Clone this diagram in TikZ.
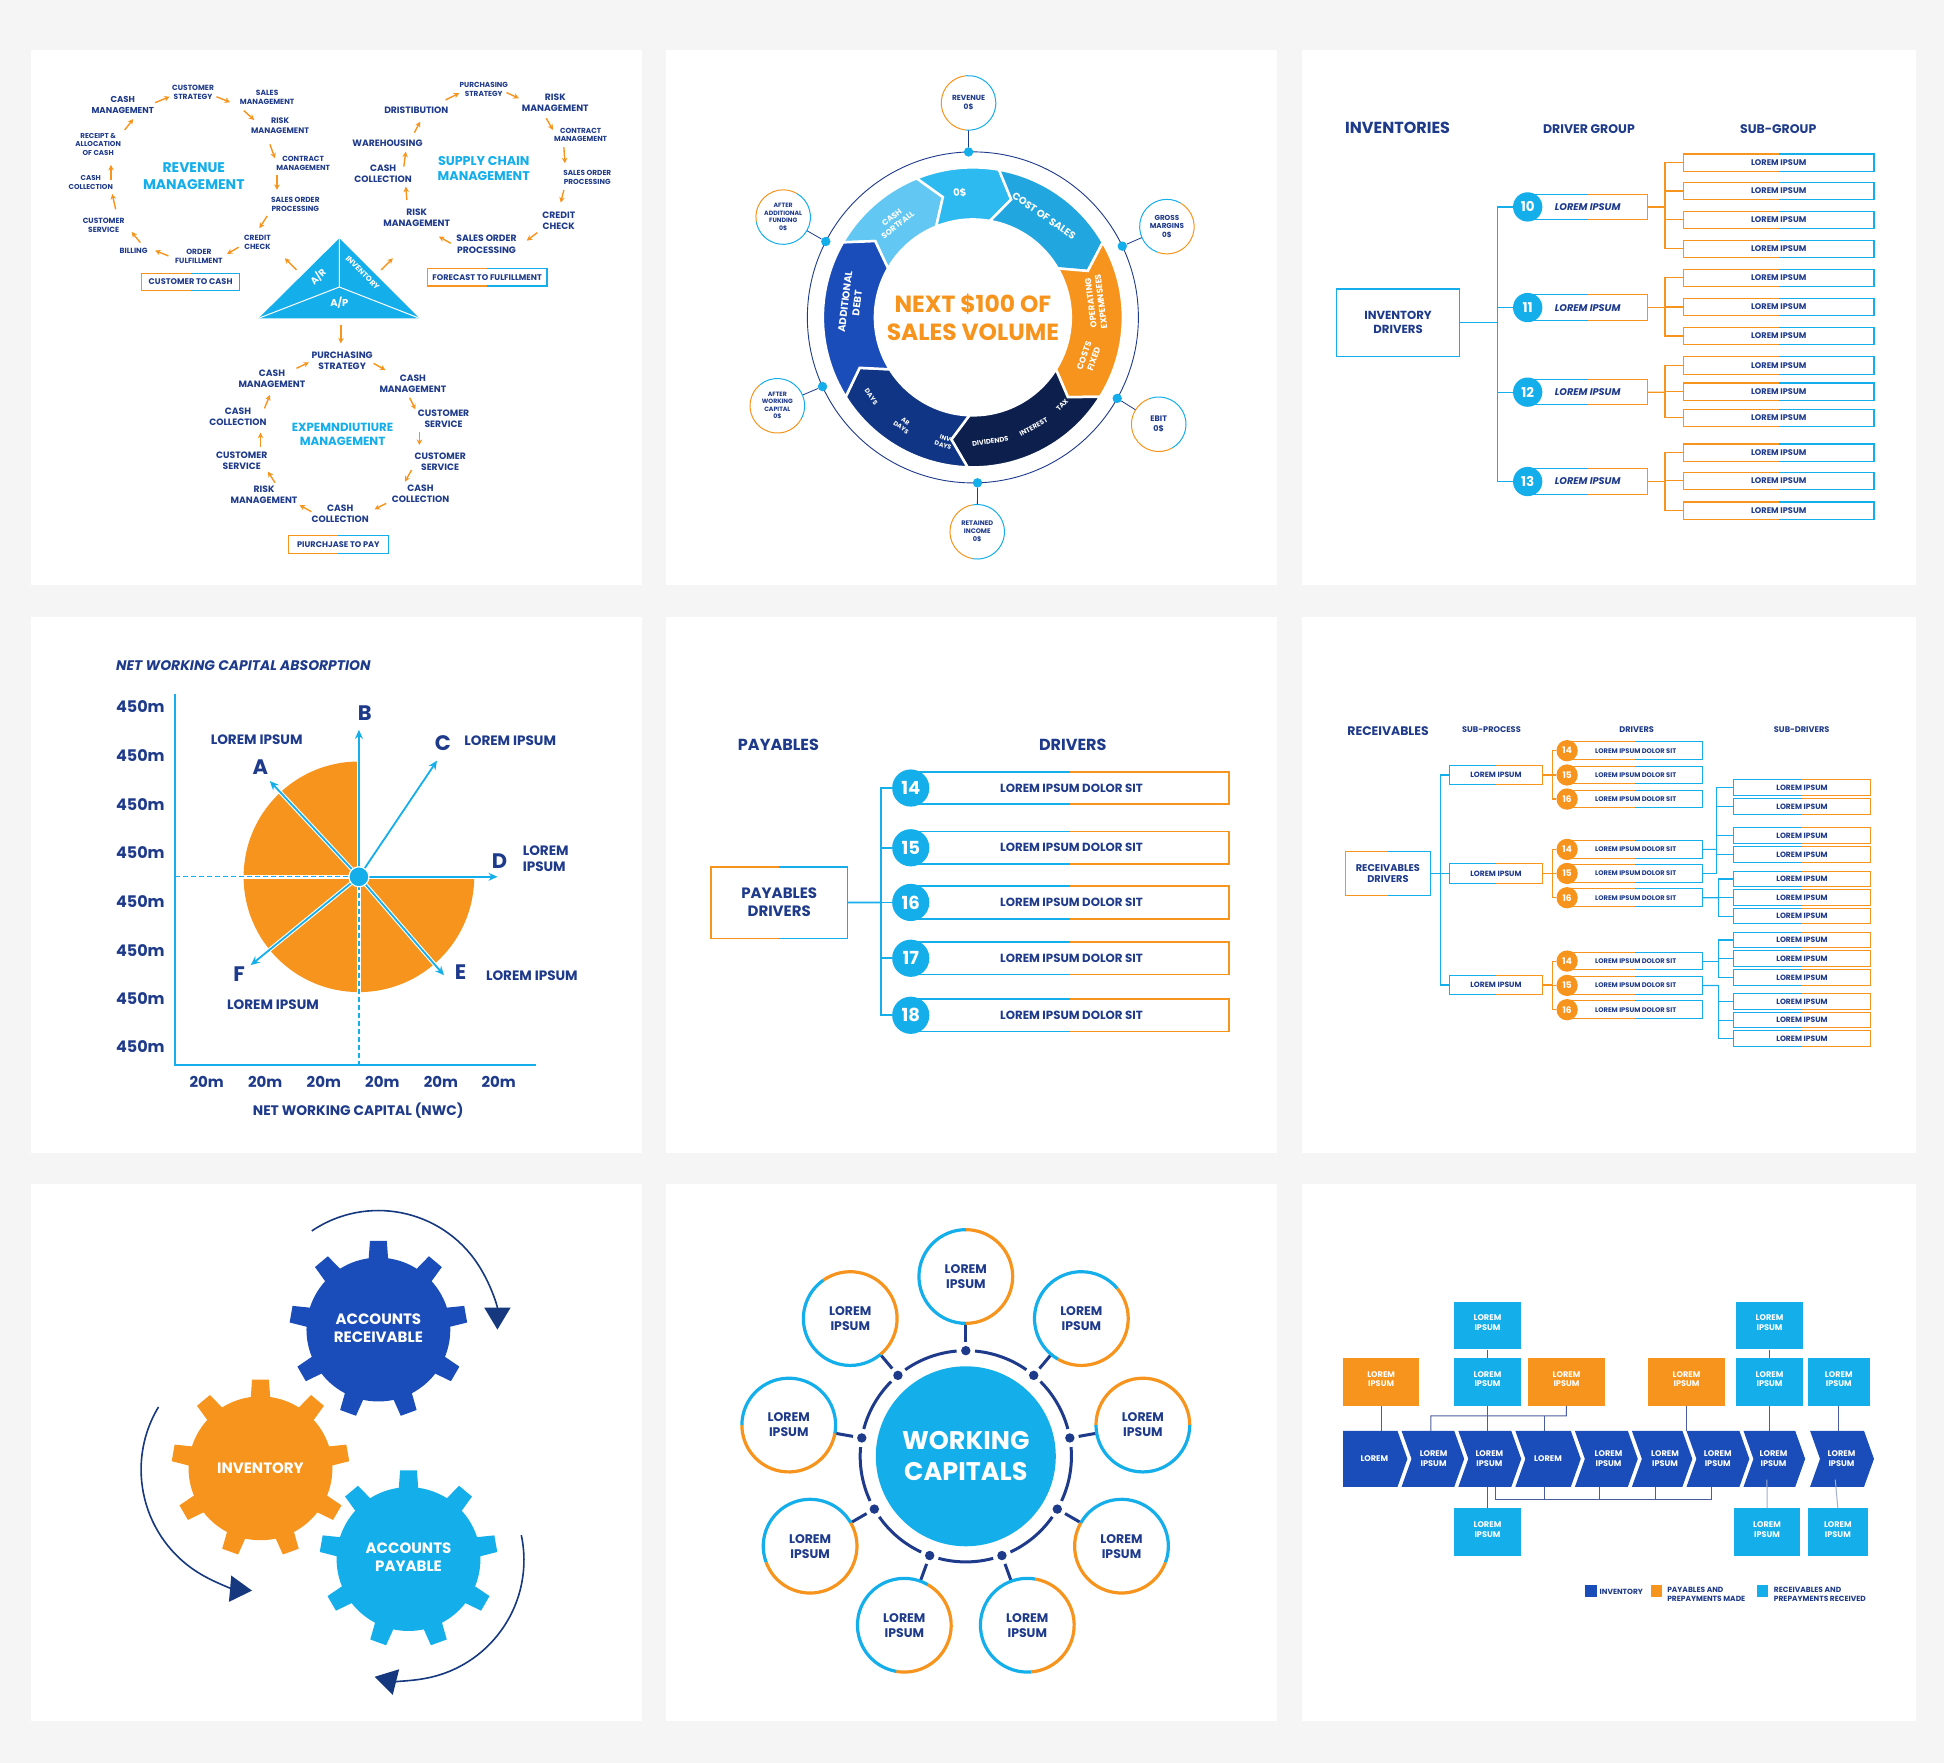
\documentclass[tikz,border=0pt]{standalone}
\usepackage{fontspec}
\setmainfont{Poppins}
\usetikzlibrary{arrows.meta,fit,calc}
\definecolor{navy}{HTML}{1E3A8A}
\definecolor{cy}{HTML}{14AEEB}
\definecolor{org}{HTML}{F7941D}
\definecolor{roy}{HTML}{1A4DB9}
\definecolor{dnavy}{HTML}{0C1F4D}
\definecolor{mnavy}{HTML}{103584}
\definecolor{lcy}{HTML}{62C8F3}
\definecolor{cyb}{HTML}{2DBAF0}
\definecolor{cyc}{HTML}{22A6E0}
\definecolor{bgc}{HTML}{F5F5F5}
\definecolor{lnk}{HTML}{4A5E9E}
\definecolor{arrn}{HTML}{16387F}
\newcommand\fz[1]{\fontsize{#1}{\fpeval{1.2*#1}}\selectfont}
\tikzset{
 tx/.style={font=\fz{#1}\bfseries, text=navy, align=center, inner sep=0pt},
 wt/.style={font=\fz{#1}\bfseries, text=white, align=center, inner sep=0pt},
 txi/.style={font=\fz{#1}\bfseries\itshape, text=navy, align=center, inner sep=0pt},
 oarr/.style={draw=org, line width=1.4pt, -{Stealth[length=5.5pt,width=5.5pt]}},
 bw/.style={line width=1.2pt},
}
\newcommand\oar[3]{\coordinate (#1s) at (#2); \coordinate (#1e) at (#3); \draw[oarr] (#1s) -- (#1e);}
\newcommand\tbox[9]{%
 \pgfmathsetmacro\tbm{(#2+#4)/2}\pgfmathsetmacro\tbv{(#3+#5)/2}%
 \node[fit={(#2,#3)(#4,#5)}, inner sep=0pt] (#1) {};%
 \node[#8] (#1t) at (\tbm,\tbv) {#9};%
 \draw[#6,bw] (\tbm,#3) -- (#2,#3) -- (#2,#5) -- (\tbm,#5);%
 \draw[#7,bw] (\tbm,#3) -- (#4,#3) -- (#4,#5) -- (\tbm,#5);%
}
\newcommand\tcirc[5]{%
 \pgfmathsetmacro\tca{#3}\pgfmathsetmacro\tcb{#4}\pgfmathsetmacro\tcc{#3+360}%
 \draw[org, line width=#5] ([shift={(#1)}]\tca:#2) arc[start angle=\tca, end angle=\tcb, radius=#2];%
 \draw[cy, line width=#5] ([shift={(#1)}]\tcb:#2) arc[start angle=\tcb, end angle=\tcc, radius=#2];%
}
\newcommand\seg[3]{%
 \pgfmathsetmacro\sga{#2}\pgfmathsetmacro\sgb{#3}\pgfmathsetmacro\sgbt{#3+8}\pgfmathsetmacro\sgat{#2+8}%
 \filldraw[fill=#1, draw=white, line width=2.5pt, line join=miter] ([shift={(rc)}]\sga:121) arc[start angle=\sga, end angle=\sgb, radius=121] -- ([shift={(rc)}]\sgbt:100) -- ([shift={(rc)}]\sgb:79) arc[start angle=\sgb, end angle=\sga, radius=79] -- ([shift={(rc)}]\sgat:100) -- cycle;%
}
\newcommand\gear[2]{%
 \fill[#2] (#1) circle[radius=58];%
 \foreach \r in {90,50,10,-30,-70,-110,-150,-190,-230} {\fill[#2, shift={(#1)}, rotate=\r] (48,-8.5) -- (71.5,-6.8) -- (71.5,6.8) -- (48,8.5) -- cycle;}%
}
\newcommand\chev[2]{\fill[roy] (#1,1154.2) -- ({#2-8},1154.2) -- (#2,1176.7) -- ({#2-8},1199.2) -- (#1,1199.2) -- ({#1+8},1176.7) -- cycle;}
\begin{document}
\begin{tikzpicture}[x=1.2398pt,y=-1.2398pt]
\fill[bgc] (0,0) rectangle (1568,1422);
\path[use as bounding box] (0,0) rectangle (1568,1422);
\foreach \xa/\ya/\xb/\yb in {25/40/518/472, 537/40/1030/472, 1050/40/1545/472, 25/498/518/930, 537/498/1030/930, 1050/498/1545/930, 25/955/518/1388, 537/955/1030/1388, 1050/955/1545/1388} \fill[white] (\xa,\ya) rectangle (\xb,\yb);

%%%%%%%% PANEL 1
\node[tx=8.6] (rv1) at (99.0,84.7) {CASH\\MANAGEMENT};
\node[tx=7.5] (rv2) at (155.7,74.4) {CUSTOMER\\STRATEGY};
\node[tx=7.5] (rv3) at (215.5,78.5) {SALES\\MANAGEMENT};
\node[tx=8] (rv4) at (225.9,101.6) {RISK\\MANAGEMENT};
\node[tx=7.4] (rv5) at (244.5,131.7) {CONTRACT\\MANAGEMENT};
\node[tx=7.4] (rv6) at (238.2,164.8) {SALES ORDER\\PROCESSING};
\node[tx=7.5] (rv7) at (207.6,195.1) {CREDIT\\CHECK};
\node[tx=7.5] (rv8) at (160.4,206.4) {ORDER\\FULFILLMENT};
\node[tx=7.5] (rv9) at (107.8,202.7) {BILLING};
\node[tx=7.5] (rv10) at (83.6,181.4) {CUSTOMER\\SERVICE};
\node[tx=7.1] (rv11) at (73.2,147.0) {CASH\\COLLECTION};
\node[tx=7.1] (rv12) at (79.2,116.4) {RECEIPT \&\\ALLOCATION\\OF CASH};
\node[tx=14, text=cy] (rvm) at (156.3,141.9) {REVENUE\\MANAGEMENT};
\oar{rA1}{125.1,82.8}{136.8,78.0}
\oar{rA2}{174.6,78.0}{185.6,82.5}
\oar{rA3}{196.6,89.2}{205.1,96.8}
\oar{rA4}{217.7,116.4}{221.8,127.7}
\oar{rA5}{223.4,141.1}{223.4,153.2}
\oar{rA6}{215.5,174.2}{209.2,184.1}
\oar{rA7}{192.5,199.4}{183.1,204.8}
\oar{rA8}{135.8,206.4}{125.1,202.1}
\oar{rA9}{113.2,195.7}{106.2,187.1}
\oar{rA10}{93.3,168.8}{90.5,156.4}
\oar{rA11}{89.5,145.1}{89.5,133.0}
\oar{rA12}{100.6,104.8}{107.5,96.0}
\tbox{bx1}{114.1}{220.4}{193.4}{234.4}{org}{cy}{tx=8.2}{CUSTOMER TO CASH}

\node[tx=7.3] (sc1) at (390.2,72.0) {PURCHASING\\STRATEGY};
\node[tx=9.2] (sc2) at (447.9,82.8) {RISK\\MANAGEMENT};
\node[tx=7.3] (sc3) at (468.3,108.8) {CONTRACT\\MANAGEMENT};
\node[tx=7.3] (sc4) at (473.7,143.0) {SALES ORDER\\PROCESSING};
\node[tx=9.2] (sc5) at (450.7,178.0) {CREDIT\\CHECK};
\node[tx=9.2] (sc6) at (392.4,197.0) {SALES ORDER\\PROCESSING};
\node[tx=9.2] (sc7) at (336.1,175.5) {RISK\\MANAGEMENT};
\node[tx=9.2] (sc8) at (309.0,139.8) {CASH\\COLLECTION};
\node[tx=9.2] (sc9) at (312.5,115.8) {WAREHOUSING};
\node[tx=9.2] (sc10) at (335.8,88.7) {DRISTIBUTION};
\node[tx=12.7, text=cy] (scm) at (390.2,135.7) {SUPPLY CHAIN\\MANAGEMENT};
\oar{sB1}{359.4,80.6}{370.4,75.2}
\oar{sB2}{408.5,74.7}{418.6,79.3}
\oar{sB3}{440.6,95.4}{446.0,104.8}
\oar{sB4}{454.8,118.8}{455.7,131.7}
\oar{sB5}{454.8,153.2}{452.3,163.4}
\oar{sB6}{433.4,187.6}{424.9,194.1}
\oar{sB7}{363.5,196.2}{354.0,190.8}
\oar{sB8}{328.2,161.3}{327.3,150.5}
\oar{sB9}{325.7,134.4}{327.3,122.3}
\oar{sB10}{334.2,107.0}{338.9,98.1}
\tbox{bx2}{344.6}{216.6}{441.2}{230.6}{org}{cy}{tx=8.2}{FORECAST TO FULFILLMENT}

\node[tx=9.2] (ex1) at (276.0,290.9) {PURCHASING\\STRATEGY};
\node[tx=9.2] (ex2) at (333.0,309.2) {CASH\\MANAGEMENT};
\node[tx=9.2] (ex3) at (357.8,338.0) {CUSTOMER\\SERVICE};
\node[tx=9.2] (ex4) at (355.0,372.4) {CUSTOMER\\SERVICE};
\node[tx=9.2] (ex5) at (339.2,397.9) {CASH\\COLLECTION};
\node[tx=9.2] (ex6) at (274.4,414.0) {CASH\\COLLECTION};
\node[tx=9.2] (ex7) at (213.0,398.7) {RISK\\MANAGEMENT};
\node[tx=9.2] (ex8) at (195.0,371.8) {CUSTOMER\\SERVICE};
\node[tx=9.2] (ex9) at (191.9,336.1) {CASH\\COLLECTION};
\node[tx=9.2] (ex10) at (219.3,305.2) {CASH\\MANAGEMENT};
\node[tx=11.8, text=cy] (exm) at (276.3,350.3) {EXPEMNDIUTIURE\\MANAGEMENT};
\oar{eC1}{239.1,297.1}{249.2,292.3}
\oar{eC2}{301.4,293.1}{310.9,298.5}
\oar{eC3}{330.4,320.8}{335.1,330.2}
\oar{eC4}{338.3,348.2}{338.3,358.9}
\oar{eC5}{332.0,379.1}{326.6,388.5}
\oar{eC6}{311.5,406.0}{302.1,410.8}
\oar{eC7}{251.1,412.7}{241.6,407.3}
\oar{eC8}{221.8,389.3}{216.1,380.4}
\oar{eC9}{210.1,360.3}{210.1,349.0}
\oar{eC10}{213.3,329.4}{217.7,318.6}
\tbox{bx3}{232.8}{432.1}{313.1}{446.3}{org}{cy}{tx=8.2}{PIURCHJASE TO PAY}

\coordinate (trA) at (208.6,256.7); \coordinate (trB) at (338.3,256.7); \coordinate (trC) at (273.7,192.2); \coordinate (trO) at (273.7,231.5);
\fill[cy] (trA) -- (trB) -- (trC) -- cycle;
\draw[white, line width=1pt] (trA) -- (trO) -- (trB) (trO) -- (trC);
\node[wt=9.5, rotate=45] (tAR) at (256.5,223.5) {A/R};
\node[wt=7.6, rotate=-45] (tINV) at (292.5,220) {INVENTORY};
\node[wt=10] (tAP) at (273.7,244.5) {A/P};
\oar{tA1}{239.1,217.7}{229.7,208.3}
\oar{tA2}{307.4,217.7}{316.9,208.3}
\oar{tA3}{275,262}{275,277}

%%%%%%%% PANEL 2
\coordinate (rc) at (784.7,256);
\draw[navy, line width=0.9pt] (rc) circle[radius=133.5];
\seg{lcy}{-150}{-112}
\seg{cyb}{-112}{-80}
\seg{cyc}{-80}{-30}
\seg{org}{-30}{32}
\seg{dnavy}{32}{92}
\seg{mnavy}{92}{148}
\seg{roy}{148}{210}
\node[wt=8, rotate=38] (lb1) at ([shift={(rc)}]-129:100) {CASH\\SORTFALL};
\node[wt=10, rotate=5] (lb2) at ([shift={(rc)}]-96:101) {0\$};
\node[wt=10, rotate=-35] (lb3) at ([shift={(rc)}]-55:100) {COST OF SALES};
\node[wt=8.6, rotate=97] (lb4) at ([shift={(rc)}]-7:100) {OPERATING\\EXPEMNSEES};
\node[wt=8.6, rotate=70] (lb5) at ([shift={(rc)}]19:99) {COSTS\\FIXED};
\node[wt=6.8, rotate=9] (lb6) at ([shift={(rc)}]82:101) {DIVIDENDS};
\node[wt=6.8, rotate=29] (lb7) at ([shift={(rc)}]61:101) {INTEREST};
\node[wt=6.8, rotate=46] (lb8) at ([shift={(rc)}]44.5:101) {TAX};
\node[wt=6.5, rotate=-55] (lb9) at ([shift={(rc)}]142:104) {DAYS};
\node[wt=6.2, rotate=-36] (lb10) at ([shift={(rc)}]123:103) {AR\\DAYS};
\node[wt=6.2, rotate=-18] (lb11) at ([shift={(rc)}]103:103) {INV\\DAYS};
\node[wt=10, rotate=83] (lb12) at ([shift={(rc)}]187:99) {ADDITIONAL\\DEBT};
\node[tx=23.4, text=org] (nxt) at (rc) {NEXT \$100 OF\\SALES VOLUME};

\node[circle, minimum size=54.6pt, tx=7.4] (s21) at (781.2,83.0) {REVENUE\\0\$};
\tcirc{s21}{22}{95}{265}{1pt}
\node[circle, fill=cy, minimum size=6pt] (d21) at ([shift={(rc)}]-91.5:133.5) {};
\draw[navy, line width=0.8pt] (d21) -- (s21);
\node[circle, minimum size=54.6pt, tx=7.2] (s22) at (941.2,182.8) {GROSS\\MARGINS\\0\$};
\tcirc{s22}{22}{-60}{110}{1pt}
\node[circle, fill=cy, minimum size=6pt] (d22) at ([shift={(rc)}]-25.5:133.5) {};
\draw[navy, line width=0.8pt] (d22) -- (s22);
\node[circle, minimum size=54.6pt, tx=8] (s23) at (934.6,342.2) {EBIT\\0\$};
\tcirc{s23}{22}{60}{250}{1pt}
\node[circle, fill=cy, minimum size=6pt] (d23) at ([shift={(rc)}]29.3:133.5) {};
\draw[navy, line width=0.8pt] (d23) -- (s23);
\node[circle, minimum size=54.6pt, tx=6.6] (s24) at (788.2,428.9) {RETAINED\\INCOME\\0\$};
\tcirc{s24}{22}{100}{260}{1pt}
\node[circle, fill=cy, minimum size=6pt] (d24) at ([shift={(rc)}]88.4:133.5) {};
\draw[navy, line width=0.8pt] (d24) -- (s24);
\node[circle, minimum size=54.6pt, tx=6.2] (s25) at (627,327.3) {AFTER\\WORKING\\CAPITAL\\0\$};
\tcirc{s25}{22}{30}{230}{1pt}
\node[circle, fill=cy, minimum size=6pt] (d25) at ([shift={(rc)}]155.3:133.5) {};
\draw[navy, line width=0.8pt] (d25) -- (s25);
\node[circle, minimum size=54.6pt, tx=6.2] (s26) at (631.7,175.1) {AFTER\\ADDITIONAL\\FUNDING\\0\$};
\tcirc{s26}{22}{170}{300}{1pt}
\node[circle, fill=cy, minimum size=6pt] (d26) at ([shift={(rc)}]207.3:133.5) {};
\draw[navy, line width=0.8pt] (d26) -- (s26);

%%%%%%%% PANEL 3
\begin{scope}
\tikzset{bw/.style={line width=1.1pt}}
\node[tx=16] (h31) at (1127.3,103.0) {INVENTORIES};
\node[tx=12.5] (h32) at (1281.6,104.1) {DRIVER GROUP};
\node[tx=12.5] (h33) at (1434.3,104.1) {SUB-GROUP};
\node[fit={(1080.7,235.7)(1174.6,284.7)}, draw=cy, line width=1.3pt] (ib) {};
\node[tx=11.7] (ibt) at (ib.center) {INVENTORY\\DRIVERS};
\coordinate (t3) at (1207.6,260.2);
\draw[cy, line width=1.3pt] (ib) -- (t3);
\foreach \n/\y in {1/131.1,2/154.0,3/177.3,4/200.7,5/224.1,6/247.5,7/270.9,8/294.8,9/315.8,10/336.9,11/365.0,12/387.8,13/411.8} {\tbox{sg\n}{1357.8}{\y-6.9}{1511.5}{\y+6.9}{org}{cy}{tx=8.2}{LOREM IPSUM}}
\foreach \g/\y in {10/166.9,11/248.1,12/316.3,13/388.4} {
 \tbox{db\g}{1232.2}{\y-10.3}{1328.9}{\y+10.3}{cy}{org}{txi=9.7}{LOREM IPSUM}
 \node[circle, fill=cy, minimum size=29.3pt, wt=13.5] (ng\g) at (1232.2,\y) {\g};
 \draw[cy, line width=1.3pt] (t3) |- (ng\g);
 \coordinate (fk\g) at (1343,\y);
 \draw[org, line width=1.3pt] (db\g) -- (fk\g);
}
\foreach \g/\s in {10/1,10/2,10/3,10/4,11/5,11/6,11/7,12/8,12/9,12/10,13/11,13/12,13/13} \draw[org, line width=1.3pt] (fk\g) |- (sg\s);
\end{scope}

%%%%%%%% PANEL 4
\node[font=\fz{13.9}\bfseries\itshape, text=navy, anchor=west, inner sep=0pt] (t4) at (93.6,537.1) {NET WORKING CAPITAL ABSORPTION};
\coordinate (yt) at (141.5,559.7); \coordinate (y0) at (141.5,858.9); \coordinate (xe) at (432.7,858.9);
\coordinate (O4) at (289.5,707.2);
\fill[org] (O4) -- ([shift={(O4)}]180:93) arc[start angle=180,end angle=270,radius=93] -- cycle;
\fill[org] (O4) -- ([shift={(O4)}]90:93) arc[start angle=90,end angle=180,radius=93] -- cycle;
\fill[org] (O4) -- ([shift={(O4)}]0:93) arc[start angle=0,end angle=90,radius=93] -- cycle;
\coordinate (pA) at (217.7,630.0); \coordinate (pB) at (289.5,588.7); \coordinate (pC) at (352.5,613.5);
\coordinate (pD) at (401.3,707.2); \coordinate (pE) at (358.1,786.6); \coordinate (pF) at (202.3,778.4);
\coordinate (pL) at ([shift={(O4)}]180:96); \coordinate (pDn) at ([shift={(O4)}]90:96);
\foreach \p in {pA,pB,pC,pD,pE,pF,pL,pDn} \draw[white, line width=4pt] (O4) -- (\p);
\draw[cy, line width=2pt] (yt) -- (y0) -- (xe);
\coordinate (yax4) at (141.5,707.2); \coordinate (xax4) at (289.5,858.9);
\draw[cy, line width=1.3pt, dash pattern=on 5pt off 3pt] (yax4) -- (O4) -- (xax4);
\foreach \p in {pA,pB,pC,pD,pE,pF} \draw[cy, line width=1.8pt, -{Stealth[length=9pt,width=8pt]}] (O4) -- (\p);
\node[circle, fill=cy, draw=white, line width=1.2pt, minimum size=20pt] (O4n) at (O4) {};
\node[tx=21] (lA) at (210.1,619) {A};
\node[tx=21] (lB) at (294.2,574.9) {B};
\node[tx=21] (lC) at (357.2,599.7) {C};
\node[tx=21] (lD) at (402.8,694.8) {D};
\node[tx=21] (lE) at (371.4,784.4) {E};
\node[tx=21] (lF) at (192.8,785.8) {F};
\node[tx=13.6] (mA) at (207,597) {LOREM IPSUM};
\node[tx=13.6] (mC) at (411.5,597.5) {LOREM IPSUM};
\node[tx=13.6, anchor=west, align=left] (mD) at (421.5,692.6) {LOREM\\IPSUM};
\node[tx=13.6] (mE) at (429,786.6) {LOREM IPSUM};
\node[tx=13.6] (mF) at (220.2,810) {LOREM IPSUM};
\foreach \i/\y in {1/570.0,2/609.4,3/648.8,4/687.9,5/727.1,6/766.5,7/805.7,8/844.5} \node[tx=16] (yl\i) at (113.2,\y) {450m};
\foreach \i/\x in {1/166.7,2/213.9,3/261.2,4/308.4,5/355.6,6/402.2} \node[tx=15] (xl\i) at (\x,872.7) {20m};
\node[tx=13.8] (xt4) at (288.9,895.6) {NET WORKING CAPITAL (NWC)};

%%%%%%%% PANEL 5
\begin{scope}
\tikzset{bw/.style={line width=1.8pt}}
\node[tx=16] (h51) at (627.9,601.1) {PAYABLES};
\node[tx=16] (h52) at (865.3,601.1) {DRIVERS};
\tbox{pd}{573.4}{699}{683.6}{756.9}{org}{cy}{tx=15}{PAYABLES\\DRIVERS}
\coordinate (t5) at (710.4,727.9);
\draw[cy, line width=1.8pt] (pd) -- (t5);
\foreach \n/\y in {14/635.6,15/683.8,16/727.9,17/772.9,18/818.9} {
 \tbox{pb\n}{734.6}{\y-13.1}{991.5}{\y+13.1}{cy}{org}{tx=11.8}{\hspace*{3pt}LOREM IPSUM DOLOR SIT}
 \node[circle, fill=cy, minimum size=37.2pt, wt=18] (pc\n) at (734.6,\y) {\n};
 \draw[cy, line width=1.8pt] (t5) |- (pc\n);
}
\end{scope}

%%%%%%%% PANEL 6
\begin{scope}
\tikzset{bw/.style={line width=1pt}}
\node[tx=12.4] (h61) at (1119.6,589.4) {RECEIVABLES};
\node[tx=8.2] (h62) at (1203.0,588.8) {SUB-PROCESS};
\node[tx=8.2] (h63) at (1320.1,588.8) {DRIVERS};
\node[tx=8.2] (h64) at (1453.2,588.8) {SUB-DRIVERS};
\tbox{rb}{1085.2}{686.8}{1153.7}{722.2}{org}{cy}{tx=9.8}{RECEIVABLES\\DRIVERS}
\coordinate (t6) at (1161.8,704.5);
\draw[cy, line width=1.2pt] (rb) -- (t6);
\foreach \p/\y in {1/625.1,2/704.5,3/794.5} {
 \tbox{sp\p}{1169.3}{\y-8}{1243.8}{\y+8}{cy}{org}{tx=7.6}{LOREM IPSUM}
 \draw[cy, line width=1.2pt] (t6) |- (sp\p);
 \coordinate (fs\p) at (1252.2,\y);
 \draw[org, line width=1.2pt] (sp\p) -- (fs\p);
}
\foreach \s/\y in {1/635.4,2/650.7,3/674.1,4/689.4,5/709.0,6/724.1,7/738.9,8/758.2,9/773.3,10/788.3,11/808.0,12/822.8,13/837.8} {\tbox{sd\s}{1398.1}{\y-6.3}{1508.8}{\y+6.3}{cy}{org}{tx=7.6}{LOREM IPSUM}}
\foreach \p/\q/\nn/\y in {1/1/14/605.5, 1/2/15/625.1, 1/3/16/644.5, 2/1/14/685.1, 2/2/15/704.5, 2/3/16/724.1, 3/1/14/775.2, 3/2/15/794.8, 3/3/16/814.4} {
 \tbox{dv\p\q}{1264}{\y-7.1}{1373.1}{\y+7.1}{org}{cy}{tx=6.7}{\hspace*{2pt}LOREM IPSUM DOLOR SIT}
 \node[circle, fill=org, minimum size=21.3pt, wt=9] (dc\p\q) at (1264,\y) {\nn};
 \draw[org, line width=1.2pt] (fs\p) |- (dc\p\q);
}
\coordinate (fa1) at (1384.6,685.1); \coordinate (fa2) at (1384.6,704.5);
\draw[cy, line width=1.2pt] (dv21) -- (fa1);
\draw[cy, line width=1.2pt] (dv22) -- (fa2) -- (fa1);
\foreach \s in {1,2,3,4} \draw[cy, line width=1.2pt] (fa1) |- (sd\s);
\coordinate (fb) at (1386,724.1); \draw[cy, line width=1.2pt] (dv23) -- (fb);
\foreach \s in {5,6,7} \draw[cy, line width=1.2pt] (fb) |- (sd\s);
\coordinate (fc) at (1386,775.2); \draw[cy, line width=1.2pt] (dv31) -- (fc);
\foreach \s in {8,9,10} \draw[cy, line width=1.2pt] (fc) |- (sd\s);
\coordinate (fd) at (1386,794.8); \draw[cy, line width=1.2pt] (dv32) -- (fd);
\foreach \s in {11,12,13} \draw[cy, line width=1.2pt] (fd) |- (sd\s);
\end{scope}

%%%%%%%% PANEL 7
\coordinate (gAR) at (305.2,1072.4); \coordinate (gIN) at (210.1,1184.3); \coordinate (gAP) at (329.5,1257.5);
\gear{gAR}{roy}
\gear{gIN}{org}
\gear{gAP}{cy}
\node[wt=15] (tAR7) at (305.2,1071) {ACCOUNTS\\RECEIVABLE};
\node[wt=15] (tIN7) at (210.1,1184.3) {INVENTORY};
\node[wt=15] (tAP7) at (329.5,1256) {ACCOUNTS\\PAYABLE};
\coordinate (ar1) at ([shift={(gAR)}]-124:96);
\draw[arrn, line width=1.6pt, -{Triangle[length=22pt,width=26pt]}] (ar1) arc[start angle=-124, end angle=0, radius=96];
\coordinate (ar2) at ([shift={(gIN)}]211:96);
\draw[arrn, line width=1.6pt, -{Triangle[length=22pt,width=26pt]}] (ar2) arc[start angle=211, end angle=95, radius=98];
\coordinate (ar3) at ([shift={(gAP)}]-12:93);
\draw[arrn, line width=1.6pt, -{Triangle[length=22pt,width=26pt]}] (ar3) arc[start angle=-12, end angle=104, radius=97];

%%%%%%%% PANEL 8
\coordinate (wc) at (779,1174.6);
\foreach \k/\o/\p in {0/-90/90,1/-40/120,2/-180/0,3/20/210,4/-80/85,5/-60/100,6/-30/160,7/10/180,8/-125/50} {
 \pgfmathsetmacro\ang{-90+40*\k}
 \pgfmathsetmacro\aa{\ang+5}
 \pgfmathsetmacro\ab{\ang+35}
 \draw[navy, line width=3pt] ([shift={(wc)}]\aa:85.2) arc[start angle=\aa, end angle=\ab, radius=85.2];
 \node[circle, fill=navy, minimum size=8.5pt] (dw\k) at ([shift={(wc)}]\ang:85.2) {};
 \node[circle, minimum size=93.7pt, tx=12.5] (sw\k) at ([shift={(wc)}]\ang:145) {LOREM\\IPSUM};
 \draw[navy, line width=3pt, shorten <=4pt] (dw\k) -- (sw\k);
 \tcirc{sw\k}{37.8}{\o}{\p}{3.2pt}
}
\node[circle, fill=cy, minimum size=180pt, wt=25.5] (wcn) at (wc) {WORKING\\CAPITALS};

%%%%%%%% PANEL 9
\fill[roy] (1083.3,1154.2) -- (1127.2,1154.2) -- (1135.2,1176.7) -- (1127.2,1199.2) -- (1083.3,1199.2) -- cycle;
\chev{1130.5}{1181}
\chev{1176.3}{1227}
\chev{1222.3}{1275}
\chev{1270.3}{1321}
\chev{1316.3}{1365}
\chev{1360.3}{1411}
\chev{1406.3}{1456}
\chev{1460}{1511.5}
\node[wt=8.2, minimum height=55.8pt] (ch1) at (1108.5,1176.7) {LOREM};
\node[wt=8.2, minimum height=55.8pt] (ch2) at (1156.3,1176.7) {LOREM\\IPSUM};
\node[wt=8.2, minimum height=55.8pt] (ch3) at (1201.3,1176.7) {LOREM\\IPSUM};
\node[wt=8.2, minimum height=55.8pt] (ch4) at (1248.6,1176.7) {LOREM};
\node[wt=8.2, minimum height=55.8pt] (ch5) at (1297.4,1176.7) {LOREM\\IPSUM};
\node[wt=8.2, minimum height=55.8pt] (ch6) at (1343.0,1176.7) {LOREM\\IPSUM};
\node[wt=8.2, minimum height=55.8pt] (ch7) at (1385.5,1176.7) {LOREM\\IPSUM};
\node[wt=8.2, minimum height=55.8pt] (ch8) at (1430.5,1176.7) {LOREM\\IPSUM};
\node[wt=8.2, minimum height=55.8pt] (ch9) at (1485.3,1176.7) {LOREM\\IPSUM};
\node[fit={(1083.3,1095.6)(1144.7,1133.8)}, fill=org, wt=8.2] (q1) {LOREM\\IPSUM};
\node[fit={(1173,1095.6)(1226.5,1133.8)}, fill=cy, wt=8.2] (q2) {LOREM\\IPSUM};
\node[fit={(1232.8,1095.6)(1294.2,1133.8)}, fill=org, wt=8.2] (q3) {LOREM\\IPSUM};
\node[fit={(1329.5,1095.6)(1391.2,1133.8)}, fill=org, wt=8.2] (q4) {LOREM\\IPSUM};
\node[fit={(1400.6,1095.6)(1453.9,1133.8)}, fill=cy, wt=8.2] (q5) {LOREM\\IPSUM};
\node[fit={(1458,1095.6)(1508.3,1133.8)}, fill=cy, wt=8.2] (q6) {LOREM\\IPSUM};
\node[fit={(1173,1049.9)(1226.5,1088.4)}, fill=cy, wt=8.2] (qt1) {LOREM\\IPSUM};
\node[fit={(1400.6,1049.9)(1453.9,1088.4)}, fill=cy, wt=8.2] (qt2) {LOREM\\IPSUM};
\node[fit={(1173,1216.6)(1226.5,1255.1)}, fill=cy, wt=8.2] (qb1) {LOREM\\IPSUM};
\node[fit={(1398.8,1216.6)(1451.7,1255.1)}, fill=cy, wt=8.2] (qb2) {LOREM\\IPSUM};
\node[fit={(1458,1216.6)(1506.7,1255.1)}, fill=cy, wt=8.2] (qb3) {LOREM\\IPSUM};
\coordinate (c8b) at (1425.2,1193.5); \coordinate (c9b) at (1480.3,1193.5);
\begin{scope}[lnk, line width=1pt]
\draw (qt1) -- (q2);
\draw (qt2) -- (q5);
\draw (q1.south) -- (q1.south |- ch1.north);
\draw (q2.south) -- (q2.south |- ch3.north);
\coordinate (k1) at (1263.4,1142.1); \coordinate (k2) at (1154.1,1142.1); \coordinate (k3) at (1245.4,1142.1);
\draw (q3.south) -- (k1) -- (k2) -- (k2 |- ch2.north);
\draw (k3) -- (k3 |- ch4.north);
\draw (q4.south) -- (q4.south |- ch7.north);
\draw (q5.south) -- (q5.south |- ch8.north);
\draw (q6.south) -- (q6.south |- ch9.north);
\draw (qb1.north) -- (qb1.north |- ch3.south);
\coordinate (m1) at (1206.1,1209.4); \coordinate (m2) at (1245.4,1209.4); \coordinate (m3) at (1290.1,1209.4); \coordinate (m4) at (1335.2,1209.4); \coordinate (m5) at (1380.2,1209.4);
\draw (m1 |- ch3.south) -- (m1) -- (m5) -- (m5 |- ch7.south);
\draw (m2) -- (m2 |- ch4.south);
\draw (m3) -- (m3 |- ch5.south);
\draw (m4) -- (m4 |- ch6.south);
\draw[lnk!50!white] (qb2.north) -- (c8b);
\draw[lnk!50!white] (qb3.north) -- (c9b);
\end{scope}
\node[fill=roy, minimum size=11.7pt] (lg1) at (1283.2,1283.2) {};
\node[tx=7.5, anchor=west, align=left] (lt1) at (1290.1,1283.6) {INVENTORY};
\node[fill=org, minimum size=11.7pt] (lg2) at (1336,1283.2) {};
\node[tx=7.5, anchor=west, align=left] (lt2) at (1344.6,1286.2) {PAYABLES AND\\PREPAYMENTS MADE};
\node[fill=cy, minimum size=11.7pt] (lg3) at (1421.7,1283.2) {};
\node[tx=7.5, anchor=west, align=left] (lt3) at (1430.6,1286.2) {RECEIVABLES AND\\PREPAYMENTS RECEIVED};
\end{tikzpicture}
\end{document}
